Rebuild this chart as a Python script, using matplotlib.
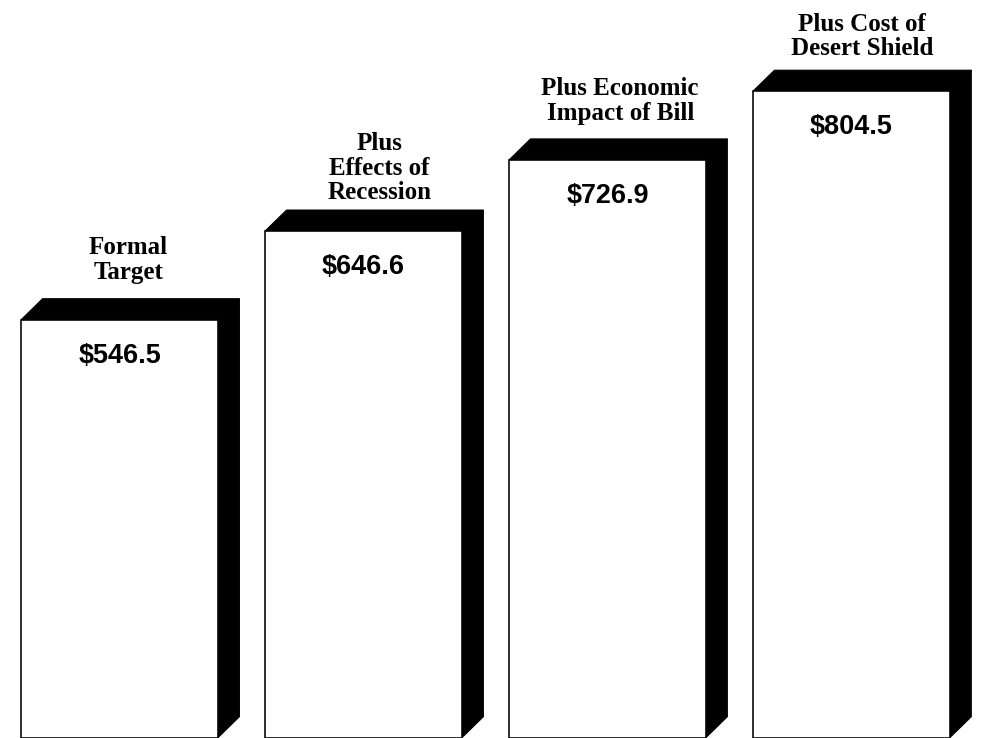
import matplotlib
matplotlib.use("Agg")
import matplotlib.pyplot as plt
from matplotlib.patches import Polygon

# Category labels and values (billions of dollars)
labels = [
    "Formal\nTarget",
    "Plus\nEffects of\nRecession",
    "Plus Economic\nImpact of Bill",
    "Plus Cost of\nDesert Shield",
]
values = [546.5, 646.6, 726.9, 804.5]

# styling / geometry
base = 74.5          # bars are cut off at the bottom of the picture
width = 0.807
depth_x = 0.088      # 3-D shadow offset in x (axis units)
depth_y = 23.7       # 3-D shadow offset in y (value units)
label_gap = [20, 11, 19, 15]   # px between label baseline and bar top
label_nudge = [-2, 5, 2, 0]    # px horizontal nudge of labels

fig = plt.figure(figsize=(13.75, 10.25), dpi=72)
ax = fig.add_axes([0, 0, 1, 1])
ax.set_xlim(-0.49, 3.568)
ax.set_ylim(74.2, 907.4)
ax.axis("off")

xs = list(range(len(values)))
heights = [v - base for v in values]
ax.bar(xs, heights, bottom=base, width=width, color="white",
       edgecolor="black", linewidth=1.6, zorder=3)

for i, v in zip(xs, values):
    left = i - width / 2
    right = i + width / 2
    # top face
    top = Polygon([(left, v), (left + depth_x, v + depth_y),
                   (right + depth_x, v + depth_y), (right, v)],
                  closed=True, facecolor="black", edgecolor="black", lw=1, zorder=2)
    # right side face
    side = Polygon([(right, v), (right + depth_x, v + depth_y),
                    (right + depth_x, base + depth_y), (right, base)],
                   closed=True, facecolor="black", edgecolor="black", lw=1, zorder=2)
    ax.add_patch(top)
    ax.add_patch(side)

    ax.annotate(f"${v:.1f}", xy=(i, v), xytext=(0, -36), textcoords="offset points",
                ha="center", va="center", fontsize=27, fontweight="bold",
                family="Liberation Sans", zorder=4)

for i, (lab, v) in enumerate(zip(labels, values)):
    ax.annotate(lab, xy=(i + depth_x / 2, v + depth_y),
                xytext=(label_nudge[i], label_gap[i]), textcoords="offset points",
                ha="center", va="baseline", multialignment="center",
                fontsize=25, fontweight="bold", family="Liberation Serif",
                linespacing=1.08)

fig.savefig("out.png", dpi=72, facecolor="white")
